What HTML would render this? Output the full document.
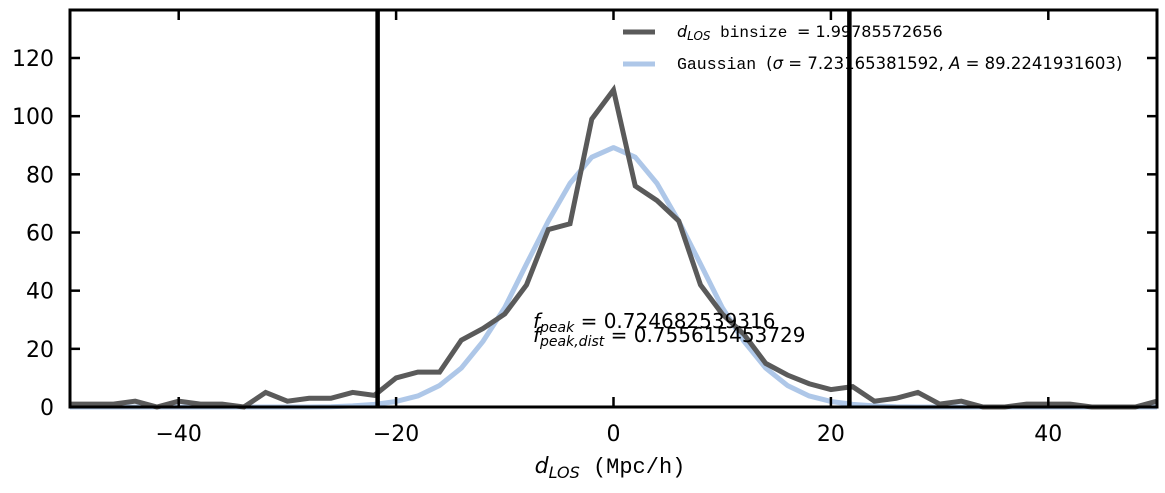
<!DOCTYPE html>
<html><head><meta charset="utf-8"><style>
body{margin:0;background:#fff;}
svg{display:block;font-family:"DejaVu Sans","Liberation Sans",sans-serif;}
</style></head><body>
<svg id="chart" width="1165" height="493"></svg>
<script>
const binCenters=[-50,-48,-46,-44,-42,-40,-38,-36,-34,-32,-30,-28,-26,-24,-22,-20,-18,-16,-14,-12,-10,-8,-6,-4,-2,0,2,4,6,8,10,12,14,16,18,20,22,24,26,28,30,32,34,36,38,40,42,44,46,48,50];
const counts=[1,1,1,2,0,2,1,1,0,5,2,3,3,5,4,10,12,12,23,27,32,42,61,63,99,109,76,71,64,42,32,25,15,11,8,6,7,2,3,5,1,2,0,0,1,1,1,0,0,0,2];
const gaussVals=[0,0,0,0,0,0,0,0,0,0,0,0,0.1,0.4,0.9,1.9,3.8,7.4,13.4,22.6,34.2,49.2,63.9,76.9,85.9,89.2,85.9,76.9,63.9,49.2,34.2,22.6,13.4,7.4,3.8,1.9,0.9,0.4,0.1,0,0,0,0,0,0,0,0,0,0,0,0];
const xTicks=[-40,-20,0,20,40];
const yTicks=[0,20,40,60,80,100,120];
const vLines=[-21.7,21.7];
const L=70,R=1157,T=10,B=407;
const xs=v=>L+(v+50)/100*(R-L);
const ys=v=>B-v/120*(B-58);
const svg=document.getElementById('chart');
const NS='http://www.w3.org/2000/svg';
function mk(tag,attrs,parent){const e=document.createElementNS(NS,tag);for(const k in attrs)e.setAttribute(k,attrs[k]);(parent||svg).appendChild(e);return e;}
let p=mk('polyline',{points:gaussVals.map((v,i)=>xs(binCenters[i])+','+ys(v)).join(' '),fill:'none',stroke:'#aec7e8','stroke-width':5,'stroke-linejoin':'round'});


p=mk('polyline',{points:counts.map((v,i)=>xs(binCenters[i])+','+ys(v)).join(' '),fill:'none',stroke:'#5a5a5a','stroke-width':5,'stroke-linejoin':'miter'});


vLines.forEach(v=>{const l=mk('line',{x1:xs(v),x2:xs(v),y1:T,y2:B,stroke:'#000','stroke-width':4.5});

});
const fr=mk('rect',{x:L,y:T,width:R-L,height:B-T,fill:'none',stroke:'#000','stroke-width':3});


xTicks.forEach(v=>{const x=xs(v);
mk('line',{x1:x,x2:x,y1:B,y2:B-10,stroke:'#000','stroke-width':2.5});
mk('line',{x1:x,x2:x,y1:T,y2:T+10,stroke:'#000','stroke-width':2.5});
const t=mk('text',{x:x,y:441,'text-anchor':'middle','font-size':22});t.textContent=(v<0?'\u2212'+(-v):v);

});
yTicks.forEach(v=>{const y=ys(v);
mk('line',{x1:L,x2:L+10,y1:y,y2:y,stroke:'#000','stroke-width':2.5});
mk('line',{x1:R,x2:R-10,y1:y,y2:y,stroke:'#000','stroke-width':2.5});
const t=mk('text',{x:54,y:y+8,'text-anchor':'end','font-size':22});t.textContent=v;

});
</script>
<svg width="1165" height="493" style="position:absolute;left:0;top:0">
<g>
<line x1="623" x2="655" y1="32" y2="32" stroke="#5a5a5a" stroke-width="5"/>
<text x="677" y="37" font-size="16" font-family="Liberation Mono,monospace"><tspan font-style="italic" font-family="DejaVu Sans,sans-serif">d</tspan><tspan font-size="12" dy="3" font-style="italic" font-family="DejaVu Sans,sans-serif">LOS</tspan><tspan dy="-3"> binsize </tspan><tspan font-family="DejaVu Sans,sans-serif">= 1.99785572656</tspan></text>
<line x1="623" x2="655" y1="64" y2="64" stroke="#aec7e8" stroke-width="5"/>
<text x="677" y="69" font-size="16.5" font-family="Liberation Mono,monospace">Gaussian <tspan font-family="DejaVu Sans,sans-serif">(<tspan font-style="italic">σ</tspan> = 7.23165381592, <tspan font-style="italic">A</tspan> = 89.2241931603)</tspan></text>
</g>
<text x="533" y="328" font-size="20"><tspan font-style="italic">f</tspan><tspan font-size="14" dy="4" font-style="italic">peak</tspan><tspan dy="-4"> = 0.724682539316</tspan></text>
<text x="533" y="342" font-size="20"><tspan font-style="italic">f</tspan><tspan font-size="14" dy="4" font-style="italic">peak,dist</tspan><tspan dy="-4"> = 0.755615453729</tspan></text>
<text x="610" y="473" text-anchor="middle" font-size="22"><tspan font-style="italic">d</tspan><tspan font-size="16" dy="5" font-style="italic">LOS</tspan><tspan dy="-5" font-family="Liberation Mono,monospace"> (Mpc/h)</tspan></text>
</svg>
</body></html>
